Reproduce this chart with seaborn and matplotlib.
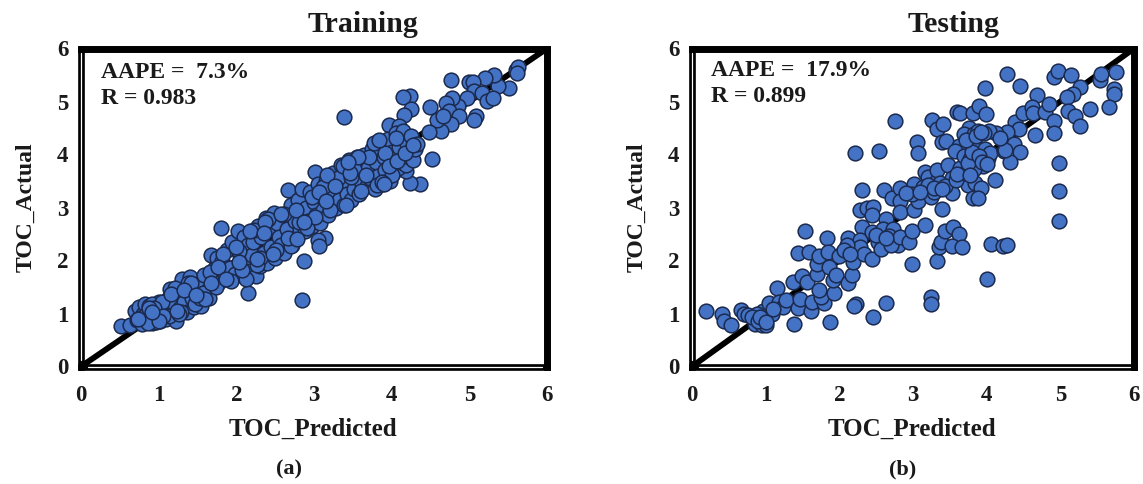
#!/usr/bin/env python3
# -*- coding: utf-8 -*-
import matplotlib
matplotlib.use('Agg')
import matplotlib.pyplot as plt
import pandas as pd
import seaborn as sns

# --------------------
# DATA
# --------------------
train_pred = [
    3.38, 2.84, 2.87, 2.15, 1.80, 4.76, 4.23, 4.14, 4.25, 4.16, 4.49, 5.60, 5.63, 5.62, 5.51, 5.37, 5.32, 5.20,
    4.99, 5.05, 5.06, 5.16, 5.23, 5.30, 5.09, 5.06, 4.97, 4.85, 4.78, 4.70, 4.74, 4.87, 4.76, 4.64, 4.59, 4.66,
    4.48, 4.52, 4.37, 4.24, 4.19, 3.96, 4.10, 0.52, 0.63, 3.14, 3.05, 3.07, 2.67, 3.01,
    0.70, 0.72, 0.75, 0.78, 0.80, 0.82, 0.85, 0.88, 0.90, 0.92, 0.95, 0.98, 1.00, 1.02, 1.05, 1.08, 1.10, 1.12,
    1.15, 1.18, 1.20, 1.22, 1.25, 1.28, 1.30, 1.33, 1.36, 1.40, 1.43, 1.46, 1.50, 1.52, 1.55, 1.58, 1.62, 1.65,
    1.68, 1.70, 1.72, 1.75, 1.78, 1.82, 1.85, 1.88, 1.92, 1.95, 1.98, 2.02, 2.05, 2.08, 2.10, 2.12, 2.15, 2.18,
    2.20, 2.22, 2.25, 2.28, 2.30, 2.32, 2.35, 2.38, 2.40, 2.42, 2.45, 2.48, 2.50, 2.52, 2.55, 2.58, 2.60, 2.62,
    2.65, 2.68, 2.70, 2.72, 2.75, 2.78, 2.80, 2.82, 2.85, 2.88, 2.90, 2.92, 2.95, 2.98, 3.00, 3.03, 3.05, 3.08,
    3.10, 3.12, 3.15, 3.18, 3.20, 3.22, 3.25, 3.28, 3.30, 3.32, 3.35, 3.38, 3.40, 3.42, 3.45, 3.48, 3.50, 3.52,
    3.55, 3.58, 3.60, 3.62, 3.65, 3.68, 3.70, 3.72, 3.75, 3.78, 3.80, 3.82, 3.85, 3.88, 3.90, 3.92, 3.95, 3.98,
    4.00, 4.02, 4.05, 4.08, 4.10, 4.12, 4.15, 4.18, 4.20, 4.22, 4.25, 4.28, 4.30, 4.33,
    0.76, 0.84, 0.91, 0.97, 1.04, 1.13, 1.21, 1.29, 1.38, 1.47, 1.57, 1.66, 1.74, 1.83, 1.93, 2.03, 2.13, 2.23,
    2.31, 2.41, 2.51, 2.61, 2.71, 2.81, 2.91, 3.01, 3.11, 3.21, 3.31, 3.41, 3.51, 3.61, 3.71, 3.81, 3.91, 4.01,
    0.86, 0.94, 1.06, 1.16, 1.26, 1.41, 1.53, 1.67, 1.77, 1.87, 1.99, 2.07, 2.17, 2.27, 2.37, 2.47, 2.57, 2.67,
    2.77, 2.87, 2.97, 3.07, 3.17, 3.27, 3.37, 3.47, 3.57, 3.67, 3.77, 3.87, 3.97, 4.07, 4.17, 4.27, 0.88, 1.32,
    0.74, 1.01, 1.24, 1.60, 2.04, 2.36, 2.78, 3.16, 3.46, 3.84, 4.06, 0.92, 1.48, 2.26, 3.44, 3.90]
train_act = [
    4.71, 1.25, 1.99, 1.38, 2.61, 5.41, 5.11, 5.09, 4.86, 4.74, 4.89, 5.59, 5.66, 5.54, 5.25, 5.29, 5.50, 5.44,
    5.37, 5.37, 5.19, 5.16, 5.01, 5.06, 4.72, 4.66, 5.06, 4.92, 5.06, 4.97, 4.83, 4.72, 4.58, 4.44, 4.66, 4.72,
    4.42, 3.92, 3.44, 3.47, 3.69, 4.56, 4.54, 0.77, 0.78, 2.42, 2.39, 2.28, 3.33, 3.67,
    1.05, 0.88, 1.12, 0.80, 1.00, 1.18, 0.85, 1.15, 0.92, 0.82, 1.08, 0.95, 1.22, 0.86, 1.02, 1.16, 0.90, 1.28,
    1.46, 1.05, 1.20, 0.86, 1.38, 1.10, 1.65, 1.22, 1.02, 1.68, 1.30, 1.12, 1.55, 1.25, 1.15, 1.72, 1.42, 1.30,
    2.10, 1.55, 1.85, 2.05, 1.60, 2.00, 1.72, 2.20, 1.85, 2.35, 1.75, 2.55, 2.10, 1.70, 2.45, 1.95, 2.30, 1.80,
    2.10, 2.35, 1.70, 2.65, 1.90, 2.45, 2.15, 2.80, 1.95, 2.60, 2.25, 2.90, 2.05, 2.70, 2.45, 2.30, 2.85, 2.15,
    2.60, 2.40, 3.05, 2.30, 2.75, 2.45, 3.15, 2.60, 3.35, 2.55, 3.00, 2.75, 3.30, 2.65, 3.10, 2.85, 3.45, 2.70,
    3.20, 2.95, 3.50, 2.85, 3.30, 3.05, 3.65, 3.00, 3.40, 3.15, 3.80, 3.05, 3.50, 3.25, 3.90, 3.15, 3.60, 3.35,
    3.95, 3.25, 3.70, 3.45, 4.00, 3.40, 3.75, 3.55, 4.10, 3.35, 3.85, 3.60, 4.25, 3.45, 3.95, 3.70, 4.30, 3.50,
    4.05, 3.65, 4.40, 3.75, 4.15, 3.85, 4.45, 3.80, 4.20, 3.95, 4.35, 3.90, 4.10, 4.20,
    0.92, 0.98, 1.18, 0.84, 1.22, 0.96, 1.48, 1.02, 1.58, 1.18, 1.38, 1.78, 1.50, 2.12, 1.62, 2.18, 1.66, 2.58,
    2.05, 2.78, 2.20, 2.88, 2.28, 2.72, 2.62, 2.82, 3.38, 2.95, 3.55, 3.05, 3.72, 3.32, 3.95, 3.42, 4.02, 3.62,
    0.82, 1.10, 0.96, 1.36, 1.00, 1.58, 1.30, 1.58, 1.88, 1.65, 2.26, 1.82, 2.55, 1.92, 2.72, 2.12, 2.88, 2.42,
    2.95, 2.72, 3.20, 3.30, 3.62, 3.40, 3.78, 3.58, 3.95, 3.62, 4.22, 3.48, 3.78, 3.88, 4.02, 4.18, 1.10, 1.45,
    0.90, 0.86, 1.05, 1.28, 1.98, 2.52, 2.40, 3.12, 3.65, 4.28, 4.32, 1.02, 1.35, 2.02, 3.85, 3.45]

test_pred = [
    0.19, 0.41, 0.43, 0.53, 0.66, 0.71, 0.76, 0.85, 0.95, 1.00, 0.96, 0.96, 0.88, 0.81, 1.09, 1.04, 1.15, 1.18,
    1.24, 1.28, 1.38, 1.44, 1.47, 1.37, 1.49, 1.56, 1.54, 1.44, 1.59, 1.62, 1.63, 1.79, 1.75, 1.72, 1.88, 1.93,
    1.70, 1.70, 1.72, 1.83, 1.85, 1.86, 1.92, 1.95, 2.12, 2.17, 2.18, 2.05, 2.00, 2.12, 2.10, 2.23, 2.20, 2.46,
    2.63, 2.21, 2.54, 2.76, 2.31, 2.28, 2.38, 2.46, 2.44, 2.31, 2.28, 2.28, 2.33, 2.45, 2.45, 2.53, 2.56, 2.61,
    2.63, 2.72, 2.83, 2.83, 2.83, 2.59, 2.73, 2.67, 2.80, 2.70, 2.82, 2.94, 2.98, 2.99, 3.01, 3.07, 3.01, 2.99,
    3.06, 3.07, 3.16, 3.16, 3.21, 3.24, 3.24, 3.26, 3.33, 3.41, 3.39, 3.45, 3.33, 3.35, 3.38, 3.43, 3.54, 3.63,
    3.53, 3.67, 3.39, 3.24, 3.29, 3.31, 3.33, 3.41, 3.53, 3.48, 3.53, 3.64, 3.71, 3.75, 3.84, 3.92, 3.82, 3.88,
    4.11, 4.00, 4.06, 4.22, 4.28, 3.60, 3.64, 3.81, 3.90, 3.99, 3.98, 4.28, 4.45, 4.68, 4.39, 4.44, 4.28, 4.13,
    4.03, 3.76, 3.69, 3.83, 3.88, 3.67, 3.62, 3.57, 3.69, 3.83, 3.98, 4.02, 3.88, 3.95, 3.83, 3.78, 4.04, 4.23,
    4.37, 4.45, 4.32, 4.25, 4.18, 4.66, 4.49, 4.62, 4.63, 4.79, 4.85, 4.91, 4.97, 5.15, 5.27, 5.17, 5.09, 5.11,
    5.20, 5.27, 4.92, 4.92, 5.40, 5.54, 5.55, 5.76, 5.73, 5.73, 5.66, 4.98, 4.98, 4.98, 2.10, 2.07, 2.14, 3.14,
    3.20, 3.36, 3.44, 3.58, 3.70, 3.74, 3.80, 3.90, 3.94, 4.00, 3.72, 3.86, 3.96, 2.50, 2.64, 2.90, 0.90, 0.92,
    1.00, 1.10, 3.10, 3.28, 3.40, 3.60, 3.78, 3.92]
test_act = [
    1.05, 1.00, 0.86, 0.78, 1.07, 1.00, 0.97, 0.81, 0.78, 0.79, 0.87, 1.05, 1.00, 0.94, 1.00, 1.19, 1.49, 1.22,
    1.12, 1.25, 0.81, 1.11, 1.28, 1.59, 1.71, 1.59, 2.55, 2.14, 2.16, 1.05, 1.22, 1.19, 1.31, 1.45, 0.84, 1.38,
    1.75, 1.94, 2.09, 2.42, 2.16, 1.88, 1.63, 1.73, 1.58, 1.73, 1.97, 2.16, 2.08, 2.42, 2.28, 1.18, 1.14, 0.94,
    1.20, 4.02, 4.07, 4.64, 3.33, 2.96, 3.00, 3.01, 2.86, 2.63, 2.39, 2.25, 2.13, 2.02, 2.54, 2.34, 2.21, 3.33,
    2.78, 3.18, 3.36, 3.12, 2.91, 2.59, 2.59, 2.47, 2.29, 2.29, 2.44, 2.34, 2.55, 1.94, 2.96, 3.12, 3.44, 3.25,
    4.23, 4.02, 2.67, 3.67, 3.58, 1.31, 1.17, 4.66, 4.48, 4.58, 4.23, 4.25, 1.99, 2.25, 2.34, 2.55, 2.63, 2.50,
    2.27, 2.25, 2.98, 3.19, 3.29, 3.48, 3.71, 3.37, 3.28, 3.80, 3.55, 3.75, 3.56, 3.42, 3.47, 3.37, 3.18, 3.18,
    3.51, 1.66, 2.31, 2.27, 2.29, 4.81, 4.78, 4.78, 4.91, 4.76, 5.25, 5.52, 5.30, 5.12, 4.62, 4.49, 4.42, 4.41,
    4.45, 4.50, 4.38, 4.39, 4.44, 4.13, 4.16, 4.06, 3.97, 4.21, 4.11, 3.94, 3.89, 3.78, 3.72, 3.91, 4.03, 4.06,
    4.20, 4.05, 3.86, 4.09, 4.31, 4.36, 4.79, 4.89, 4.78, 4.81, 4.96, 5.46, 5.58, 5.50, 5.27, 5.14, 5.08, 4.83,
    4.73, 4.53, 4.64, 4.41, 4.86, 5.41, 5.52, 5.55, 5.23, 5.14, 4.89, 3.84, 3.31, 2.75, 2.30, 2.20, 2.12, 3.38,
    3.42, 3.46, 3.40, 3.52, 3.66, 3.84, 4.04, 3.98, 3.86, 3.82, 4.28, 4.34, 4.40, 2.48, 2.42, 3.28, 0.86, 0.94,
    0.84, 1.08, 3.30, 3.36, 3.34, 3.64, 3.62, 4.42]

tick_vals = [0, 1, 2, 3, 4, 5, 6]
diag_vals = [0, 6]

panels = [
    ('Training', '(a)', 'AAPE =  7.3%', 'R = 0.983', train_pred, train_act),
    ('Testing', '(b)', 'AAPE =  17.9%', 'R = 0.899', test_pred, test_act),
]
# layout in pixels: axes left, top, right, bottom, then title x, tag x, xlabel x, stat x, stat y's
layouts = [
    (81, 48.5, 547, 366.5, 363, 289, 313, 101, 72, 99),
    (692, 48.5, 1134, 366.5, 953, 903, 912, 711, 70, 96),
]

# --------------------
# FIGURE
# --------------------
W, H = 1143, 484
TXT = '#1a1a1a'
sns.set_theme(style='white')
plt.rcParams['font.family'] = ['Liberation Serif', 'DejaVu Serif']
plt.rcParams['font.weight'] = 'bold'

fig = plt.figure(figsize=(W / 100, H / 100), dpi=100)


def px_text(x, y, s, size, **kw):
    fig.text(x / W, 1 - y / H, s, fontsize=size, fontweight='bold', va='center', color=TXT, **kw)


for (title, tag, aape, r, xs, ys), lay in zip(panels, layouts):
    l, t, rt, b, title_x, tag_x, xlab_x, stat_x, stat_y1, stat_y2 = lay
    ax = fig.add_axes([l / W, 1 - b / H, (rt - l) / W, (b - t) / H])
    df = pd.DataFrame({'pred': xs, 'actual': ys})
    sns.lineplot(x=diag_vals, y=diag_vals, color='black', linewidth=4.2, ax=ax, zorder=2)
    sns.scatterplot(data=df, x='pred', y='actual', s=112, color='#4472C4',
                    edgecolor='#1B2A4E', linewidth=1.1, ax=ax, zorder=3, clip_on=False)
    ax.set_xlim(0, 6)
    ax.set_ylim(0, 6)
    ax.set_xticks(tick_vals)
    ax.set_yticks(tick_vals)
    ax.tick_params(axis='x', labelsize=16.5, pad=13, length=0, colors=TXT)
    ax.tick_params(axis='y', labelsize=16.5, pad=9, length=0, colors=TXT)
    ax.grid(False)
    ax.set_xlabel('')
    ax.set_ylabel('TOC_Actual', fontsize=17, fontweight='bold', labelpad=15, color=TXT)
    for side, spine in ax.spines.items():
        spine.set_visible(True)
        spine.set_color('black')
        spine.set_linewidth(5 if side in ('top', 'right') else 4.8)
        spine.set_zorder(4)
    # the left and bottom edges are double lines
    ax.plot([0, 0], [0.02, 0.985], color='white', lw=0.9, transform=ax.transAxes, clip_on=False, zorder=5)
    ax.plot([0.015, 0.99], [0, 0], color='white', lw=0.9, transform=ax.transAxes, clip_on=False, zorder=5)
    px_text(stat_x, stat_y1, aape, 17, ha='left')
    px_text(stat_x, stat_y2, r, 17, ha='left')
    px_text(title_x, 25, title, 21.5, ha='center')
    px_text(xlab_x, 429, 'TOC_Predicted', 18, ha='center')
    px_text(tag_x, 469, tag, 16, ha='center')

fig.savefig('out.png', dpi=100)
